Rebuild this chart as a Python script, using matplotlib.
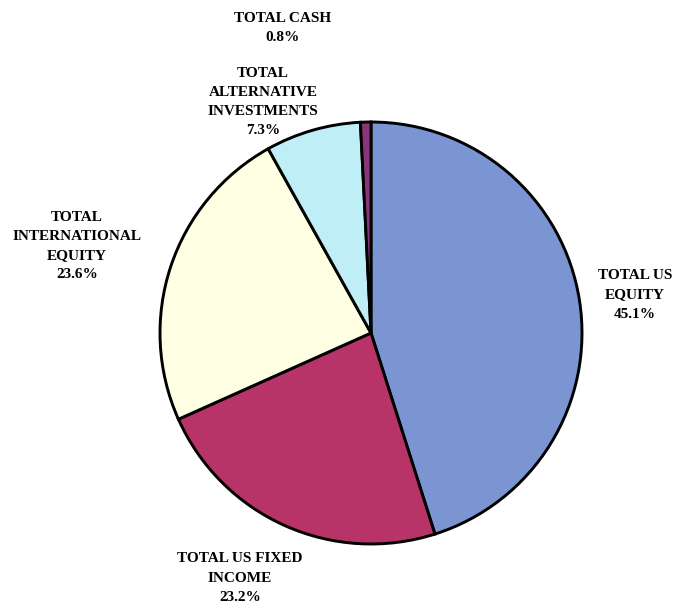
import matplotlib
matplotlib.use('Agg')
import matplotlib.pyplot as plt

# Asset allocation (percent of total portfolio)
categories = ['TOTAL US\nEQUITY', 'TOTAL US FIXED\nINCOME', 'TOTAL\nINTERNATIONAL\nEQUITY',
              'TOTAL\nALTERNATIVE\nINVESTMENTS', 'TOTAL CASH']
shares = [45.1, 23.2, 23.6, 7.3, 0.8]
colors = ['#7a95d2', '#b83468', '#ffffe3', '#bfeef7', '#8c3479']

# label block centres in pixel coordinates (origin bottom-left)
label_pos = [(635, 313), (240, 30), (77, 362), (263, 506), (283, 580)]

fig = plt.figure(figsize=(6.91, 6.08), dpi=100)
ax = fig.add_axes([0, 0, 1, 1])

ax.pie(shares, colors=colors, startangle=90, counterclock=False,
       center=(371, 275), radius=211,
       wedgeprops=dict(edgecolor='black', linewidth=2.1))

for name, val, (x, y) in zip(categories, shares, label_pos):
    ax.text(x, y, f'{name}\n{val:.1f}%', ha='center', va='center',
            fontsize=11, fontweight='bold', family='Liberation Serif',
            linespacing=1.62)

ax.set_xlim(0, 691)
ax.set_ylim(0, 608)
ax.set_aspect('equal')
ax.axis('off')

fig.savefig('out.png', dpi=100, facecolor='white')
